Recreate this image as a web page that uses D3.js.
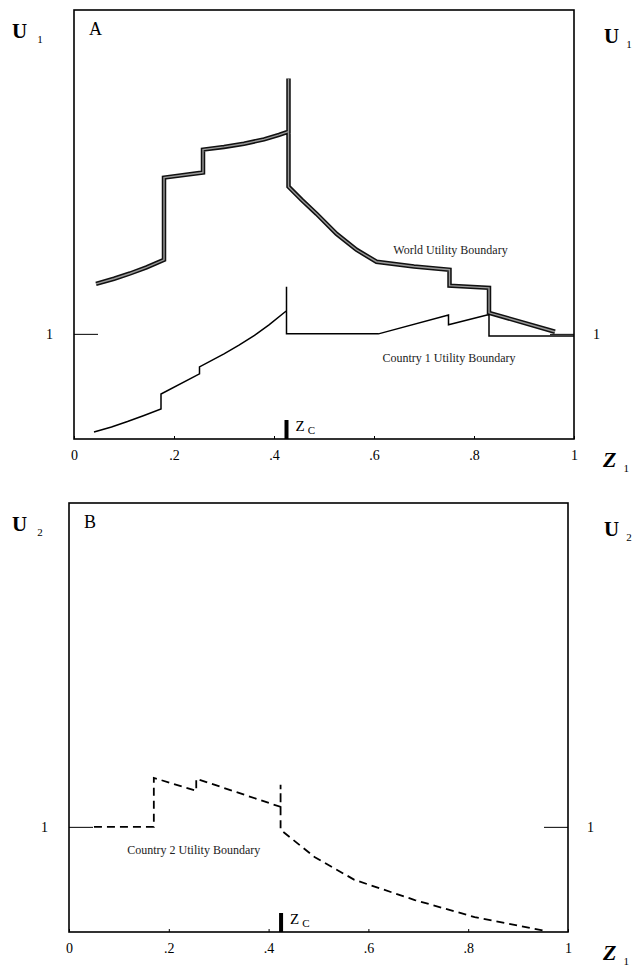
<!DOCTYPE html>
<html>
<head>
<meta charset="utf-8">
<script src="https://cdn.jsdelivr.net/npm/d3@7"></script>
<style>
    body { margin: 0; background: #fff; }
    text { font-family: "Liberation Serif", "DejaVu Serif", serif; }
</style>
</head>
<body>
<svg id="chart" width="635" height="968"></svg>
<script>
// tick values
var xTickValues = [0, .2, .4, .6, .8, 1];
var xTickLabels = ["0", ".2", ".4", ".6", ".8", "1"];
var yTickValues = [1];
var zC = 0.425;

// panel A: world utility boundary [Z1, U1]
var worldBoundary = [
    [0.044, 1.238], [0.08, 1.262], [0.112, 1.287], [0.145, 1.316], [0.18, 1.352],
    [0.18, 1.743], [0.258, 1.767],
    [0.258, 1.876], [0.30, 1.889], [0.34, 1.904], [0.38, 1.925], [0.41, 1.946], [0.429, 1.962],
    [0.429, 2.214], [0.429, 1.700],
    [0.455, 1.638], [0.485, 1.571], [0.525, 1.476], [0.565, 1.400], [0.605, 1.343],
    [0.68, 1.32], [0.751, 1.305],
    [0.751, 1.229], [0.83, 1.219],
    [0.83, 1.10], [0.962, 1.01]
];

// panel A: country 1 utility boundary
var country1Boundary = [
    [0.040, 0.533], [0.075, 0.557], [0.107, 0.583], [0.14, 0.612], [0.174, 0.643],
    [0.174, 0.714], [0.251, 0.81],
    [0.251, 0.843], [0.30, 0.905], [0.33, 0.946], [0.361, 0.993], [0.39, 1.043], [0.425, 1.11],
    [0.425, 1.224], [0.425, 1.0],
    [0.609, 1.0], [0.749, 1.09],
    [0.749, 1.043], [0.826, 1.09],
    [0.83, 1.09], [0.83, 0.99], [1.0, 0.99]
];

// panel B: country 2 utility boundary
var country2Boundary = [
    [0.05, 1.0], [0.17, 1.0],
    [0.17, 1.233], [0.255, 1.171],
    [0.255, 1.229], [0.424, 1.095],
    [0.424, 1.2], [0.424, 0.986],
    [0.492, 0.857], [0.572, 0.748], [0.693, 0.652], [0.813, 0.571], [0.954, 0.505]
];

var svg = d3.select("#chart");

function drawPanel(cfg) {
    var x = d3.scaleLinear().domain([0, 1]).range([cfg.left, cfg.right]);
    var y = d3.scaleLinear().domain([0.5, 2.54]).range([cfg.bottom, cfg.top]);
    var g = svg.append("g");

    //frame
    g.append("rect")
        .attr("x", cfg.left).attr("y", cfg.top)
        .attr("width", cfg.right - cfg.left).attr("height", cfg.bottom - cfg.top)
        .attr("fill", "none").attr("stroke", "#000").attr("stroke-width", 1.6);

    var xAxis = g.append("g")
        .attr("transform", "translate(0," + cfg.bottom + ")")
        .call(d3.axisBottom(x).tickValues(xTickValues)
            .tickFormat(function (d, i) { return xTickLabels[i]; })
            .tickSize(-3).tickPadding(11));
    var yLeft = g.append("g")
        .attr("transform", "translate(" + cfg.left + ",0)")
        .call(d3.axisLeft(y).tickValues(yTickValues).tickFormat(d3.format("d"))
            .tickSize(-24).tickPadding(21));
    var yRight = g.append("g")
        .attr("transform", "translate(" + cfg.right + ",0)")
        .call(d3.axisRight(y).tickValues(yTickValues).tickFormat(d3.format("d"))
            .tickSize(-24).tickPadding(19));
    [xAxis, yLeft, yRight].forEach(function (a) {
        a.select(".domain").remove();
        a.attr("font-family", null).attr("font-size", null);
        a.selectAll("text").style("font-size", "14px").attr("fill", "#000");
        a.selectAll("line").attr("stroke", "#000").attr("stroke-width", 1);
    });

    var line = d3.line().x(function (d) { return x(d[0]); }).y(function (d) { return y(d[1]); });

    cfg.draw(g, x, y, line);

    // Z_C marker
    g.append("rect")
        .attr("x", x(zC) - 2).attr("y", cfg.bottom - 19)
        .attr("width", 4).attr("height", 19).attr("fill", "#000");
    var zl = g.append("text")
        .attr("x", x(zC) + 9).attr("y", cfg.bottom - 8)
        .style("font-size", "15px");
    zl.append("tspan").text("Z");
    zl.append("tspan").attr("dx", 3).attr("dy", 3).style("font-size", "11px").text("C");

    // panel letter
    g.append("text").attr("x", cfg.left + 15).attr("y", cfg.top + 25)
        .style("font-size", "18px").text(cfg.letter);

    // axis titles
    function axisTitle(tx, ty, main, sub, size, italic, gap) {
        var t = g.append("text").attr("x", tx).attr("y", ty)
            .style("font-size", size + "px").style("font-weight", "bold");
        var m = t.append("tspan").text(main);
        if (italic) m.style("font-style", "italic");
        t.append("tspan").attr("dx", gap).attr("dy", 5)
            .style("font-size", "11px").style("font-weight", "normal").text(sub);
    }
    axisTitle(12, cfg.top + 28, "U", cfg.sub, 21, false, 10);
    axisTitle(604, cfg.top + 33, "U", cfg.sub, 21, false, 7);
    axisTitle(603, cfg.bottom + 28, "Z", "1", 22, true, 7);
}

drawPanel({
    left: 74, right: 574, top: 10, bottom: 439, letter: "A", sub: "1",
    draw: function (g, x, y, line) {
        g.append("path").datum(worldBoundary).attr("d", line)
            .attr("fill", "none").attr("stroke", "#111").attr("stroke-width", 4.5)
            .attr("stroke-linejoin", "miter");
        g.append("path").datum(worldBoundary).attr("d", line)
            .attr("fill", "none").attr("stroke", "#999").attr("stroke-width", 1.4);
        g.append("path").datum(country1Boundary).attr("d", line)
            .attr("fill", "none").attr("stroke", "#000").attr("stroke-width", 1.5);
        g.append("text").attr("x", x(0.753)).attr("y", y(1.38))
            .attr("text-anchor", "middle").style("font-size", "12px").attr("fill", "#222")
            .text("World Utility Boundary");
        g.append("text").attr("x", x(0.75)).attr("y", y(0.865))
            .attr("text-anchor", "middle").style("font-size", "12px").attr("fill", "#222")
            .text("Country 1 Utility Boundary");
    }
});

drawPanel({
    left: 69, right: 568, top: 503, bottom: 932, letter: "B", sub: "2",
    draw: function (g, x, y, line) {
        g.append("path").datum(country2Boundary).attr("d", line)
            .attr("fill", "none").attr("stroke", "#000").attr("stroke-width", 1.8)
            .attr("stroke-dasharray", "8,5");
        g.append("text").attr("x", x(0.25)).attr("y", y(0.87))
            .attr("text-anchor", "middle").style("font-size", "12px").attr("fill", "#222")
            .text("Country 2 Utility Boundary");
    }
});
</script>
</body>
</html>
